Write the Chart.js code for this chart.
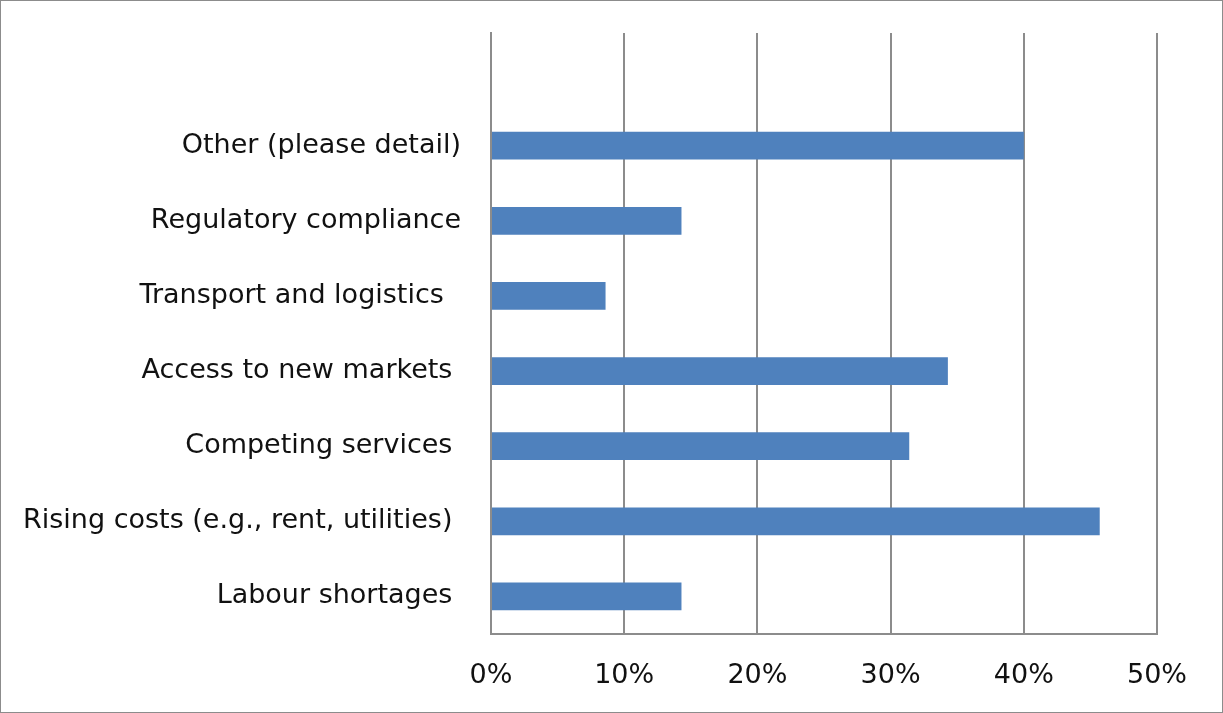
<!DOCTYPE html>
<html>
<head>
<meta charset="utf-8">
<script src="https://cdn.jsdelivr.net/npm/chart.js@4/dist/chart.umd.min.js"></script>
<style>
    html, body { margin: 0; padding: 0; background: #fff; }
    .frame { width: 1223px; height: 713px; box-sizing: border-box; border: 1px solid #8c8c8c; }
</style>
</head>
<body>
<div class="frame"><canvas id="barriersChart" width="1221" height="711"></canvas></div>
<script>
// Categories, top to bottom (first row is an empty slot, as in the original sheet)
const categories = [
    '',
    'Other (please detail)',
    'Regulatory compliance',
    'Transport and logistics  ',
    'Access to new markets ',
    'Competing services ',
    'Rising costs (e.g., rent, utilities) ',
    'Labour shortages '
];
// Share of respondents, %
const shares = [null, 40.0, 14.3, 8.6, 34.3, 31.4, 45.7, 14.3];
const axisTicks = [0, 10, 20, 30, 40, 50];

const labelFont = { family: '"DejaVu Sans", sans-serif', size: 27 };
const gridGrey = '#8c8c8c';

const ctx = document.getElementById('barriersChart').getContext('2d');
const barriersChart = new Chart(ctx, {
    type: 'bar',
    data: {
        labels: categories,
        datasets: [{
            data: shares,
            backgroundColor: '#4f81bd',
            categoryPercentage: 1,
            barPercentage: 0.37
        }]
    },
    options: {
        indexAxis: 'y',
        responsive: false,
        animation: false,
        layout: { padding: { top: 32, right: 65, bottom: 0, left: 0 } },
        plugins: {
            legend: { display: false },
            tooltip: { enabled: false }
        },
        scales: {
            x: {
                min: axisTicks[0],
                max: axisTicks[axisTicks.length - 1],
                afterBuildTicks: (scale) => { scale.ticks = axisTicks.map(v => ({ value: v })); },
                afterFit: (scale) => { scale.height = 78; },
                grid: { color: gridGrey, lineWidth: 2, drawTicks: false },
                border: { color: gridGrey, width: 2 },
                ticks: {
                    color: '#111',
                    font: labelFont,
                    padding: 26,
                    callback: (v) => v + '%'
                }
            },
            y: {
                afterFit: (scale) => {
                    scale.width = 490;
                    scale.paddingTop = 0;
                    scale.paddingBottom = 0;
                },
                grid: { display: false },
                border: { color: gridGrey, width: 2 },
                ticks: {
                    color: '#111',
                    font: labelFont,
                    padding: 22,
                    autoSkip: false
                }
            }
        }
    }
});
</script>
</body>
</html>
